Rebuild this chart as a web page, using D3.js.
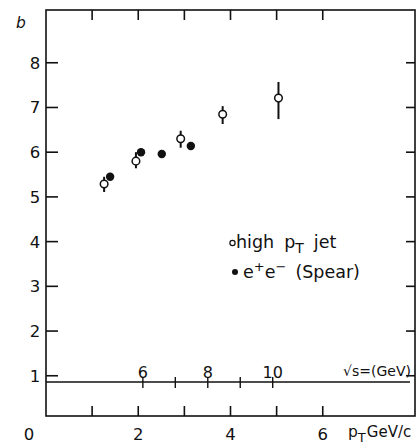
<!DOCTYPE html>
<html>
<head>
<meta charset="utf-8">
<script src="https://cdn.jsdelivr.net/npm/d3@7"></script>
<style>
  html, body { margin: 0; padding: 0; background: #fff; }
  svg { display: block; }
  text { font-family: "DejaVu Sans", sans-serif; fill: #111; }
</style>
</head>
<body>
<svg id="chart" width="420" height="446"></svg>
<script>
// b versus transverse momentum: high-pT jets and SPEAR e+e- data
const jetPt   = [1.26, 1.95, 2.92, 3.83, 5.04];
const jetB    = [5.29, 5.80, 6.30, 6.85, 7.21];
const jetErrUp   = [0.16, 0.20, 0.18, 0.18, 0.36];
const jetErrDown = [0.18, 0.16, 0.20, 0.22, 0.47];

const spearPt = [1.39, 2.06, 2.51, 3.14];
const spearB  = [5.45, 6.00, 5.96, 6.14];

const xTicks = [1, 2, 3, 4, 5, 6];
const xTickLabels = ["0", "2", "4", "6"];
const yTicks = [1, 2, 3, 4, 5, 6, 7, 8];
const sqrtSTicks = [6, 7, 8, 9, 10];
const sqrtSLabels = [6, 8, 10];

const svg = d3.select("#chart");
const ink = "#111";

const x = d3.scaleLinear().domain([0, 8]).range([46, 415]);
const y = d3.scaleLinear().domain([0.1, 9.18]).range([416, 10]);
// auxiliary centre-of-mass energy scale drawn along a line inside the frame
const sqrtS = d3.scaleLinear().domain([6, 10]).range([x(2.1), x(4.915)]);
const sqrtSLevel = 0.86;

// frame
svg.append("rect")
  .attr("x", x(0)).attr("y", y(9.18))
  .attr("width", x(8) - x(0)).attr("height", y(0.1) - y(9.18))
  .attr("fill", "none").attr("stroke", ink).attr("stroke-width", 1.6);

// x ticks on bottom and top, pointing inward
const tickLen = 10;
svg.append("g").selectAll("line").data(xTicks).join("line")
  .attr("x1", d => x(d)).attr("x2", d => x(d))
  .attr("y1", y(0.1)).attr("y2", y(0.1) - tickLen)
  .attr("stroke", ink).attr("stroke-width", 1.6);
svg.append("g").selectAll("line").data(xTicks).join("line")
  .attr("x1", d => x(d)).attr("x2", d => x(d))
  .attr("y1", y(9.18)).attr("y2", y(9.18) + tickLen)
  .attr("stroke", ink).attr("stroke-width", 1.6);

// y ticks on left and right, pointing inward
svg.append("g").selectAll("line").data(yTicks).join("line")
  .attr("x1", x(0)).attr("x2", x(0) + 12)
  .attr("y1", d => y(d)).attr("y2", d => y(d))
  .attr("stroke", ink).attr("stroke-width", 1.6);
svg.append("g").selectAll("line").data(yTicks).join("line")
  .attr("x1", x(8)).attr("x2", x(8) - 9)
  .attr("y1", d => y(d)).attr("y2", d => y(d))
  .attr("stroke", ink).attr("stroke-width", 1.6);

// y tick labels
svg.append("g").selectAll("text").data(yTicks).join("text")
  .attr("x", 35).attr("y", d => y(d) + 6)
  .attr("text-anchor", "middle").attr("font-size", 16.5)
  .text(d => d);

// x tick labels
svg.append("g").selectAll("text").data(xTickLabels).join("text")
  .attr("x", d => d === "0" ? 29 : x(+d)).attr("y", 440)
  .attr("text-anchor", "middle").attr("font-size", 16.5)
  .text(d => d);

// axis titles
svg.append("text").attr("x", 21).attr("y", 28)
  .attr("text-anchor", "middle").attr("font-size", 15.5)
  .attr("font-style", "italic").text("b");

const xt = svg.append("text").attr("x", 348).attr("y", 437).attr("font-size", 15.5);
xt.append("tspan").text("p");
xt.append("tspan").attr("font-size", 13).attr("dy", 5).text("T");
xt.append("tspan").attr("dy", -5).attr("dx", 1).attr("font-size", 15).text("GeV/c");

// sqrt(s) auxiliary axis
const ly = y(sqrtSLevel);
svg.append("line")
  .attr("x1", x(0)).attr("x2", 410).attr("y1", ly).attr("y2", ly)
  .attr("stroke", ink).attr("stroke-width", 1.5);
svg.append("g").selectAll("line").data(sqrtSTicks).join("line")
  .attr("x1", d => sqrtS(d)).attr("x2", d => sqrtS(d))
  .attr("y1", ly - 5).attr("y2", ly + 6)
  .attr("stroke", ink).attr("stroke-width", 1.4);
svg.append("g").selectAll("text").data(sqrtSLabels).join("text")
  .attr("x", d => sqrtS(d)).attr("y", ly - 4)
  .attr("text-anchor", "middle").attr("font-size", 16)
  .text(d => d);
svg.append("text").attr("x", 343).attr("y", 376).attr("font-size", 14)
  .attr("textLength", 68).attr("lengthAdjust", "spacingAndGlyphs")
  .text("\u221As=(GeV)");

// high-pT jet points: error bars with open circles
const jets = jetPt.map((p, i) => ({ p, b: jetB[i], up: jetErrUp[i], dn: jetErrDown[i] }));
svg.append("g").selectAll("line").data(jets).join("line")
  .attr("x1", d => x(d.p)).attr("x2", d => x(d.p))
  .attr("y1", d => y(d.b + d.up)).attr("y2", d => y(d.b - d.dn))
  .attr("stroke", ink).attr("stroke-width", 2);
svg.append("g").selectAll("circle").data(jets).join("circle")
  .attr("cx", d => x(d.p)).attr("cy", d => y(d.b)).attr("r", 3.8)
  .attr("fill", "#fff").attr("stroke", ink).attr("stroke-width", 1.5);

// SPEAR e+e- points: filled circles
const spear = spearPt.map((p, i) => ({ p, b: spearB[i] }));
svg.append("g").selectAll("circle").data(spear).join("circle")
  .attr("cx", d => x(d.p)).attr("cy", d => y(d.b)).attr("r", 4.2)
  .attr("fill", ink);

// legend
svg.append("circle").attr("cx", 232.5).attr("cy", 243).attr("r", 2.6)
  .attr("fill", "#fff").attr("stroke", ink).attr("stroke-width", 1.2);
const l1 = svg.append("text").attr("x", 236).attr("y", 248).attr("font-size", 17.5);
l1.append("tspan").text("high");
l1.append("tspan").attr("dx", 10).text("p");
l1.append("tspan").attr("font-size", 14).attr("dy", 5).text("T");
l1.append("tspan").attr("dy", -5).attr("dx", 10).text("jet");

svg.append("circle").attr("cx", 235).attr("cy", 272).attr("r", 3).attr("fill", ink);
const l2 = svg.append("text").attr("x", 243).attr("y", 278).attr("font-size", 17.5);
l2.append("tspan").text("e");
l2.append("tspan").attr("font-size", 13).attr("dy", -7).text("+");
l2.append("tspan").attr("dy", 7).text("e");
l2.append("tspan").attr("font-size", 13).attr("dy", -7).text("\u2212");
l2.append("tspan").attr("dy", 7).attr("dx", 9).text("(Spear)");
</script>
</body>
</html>
